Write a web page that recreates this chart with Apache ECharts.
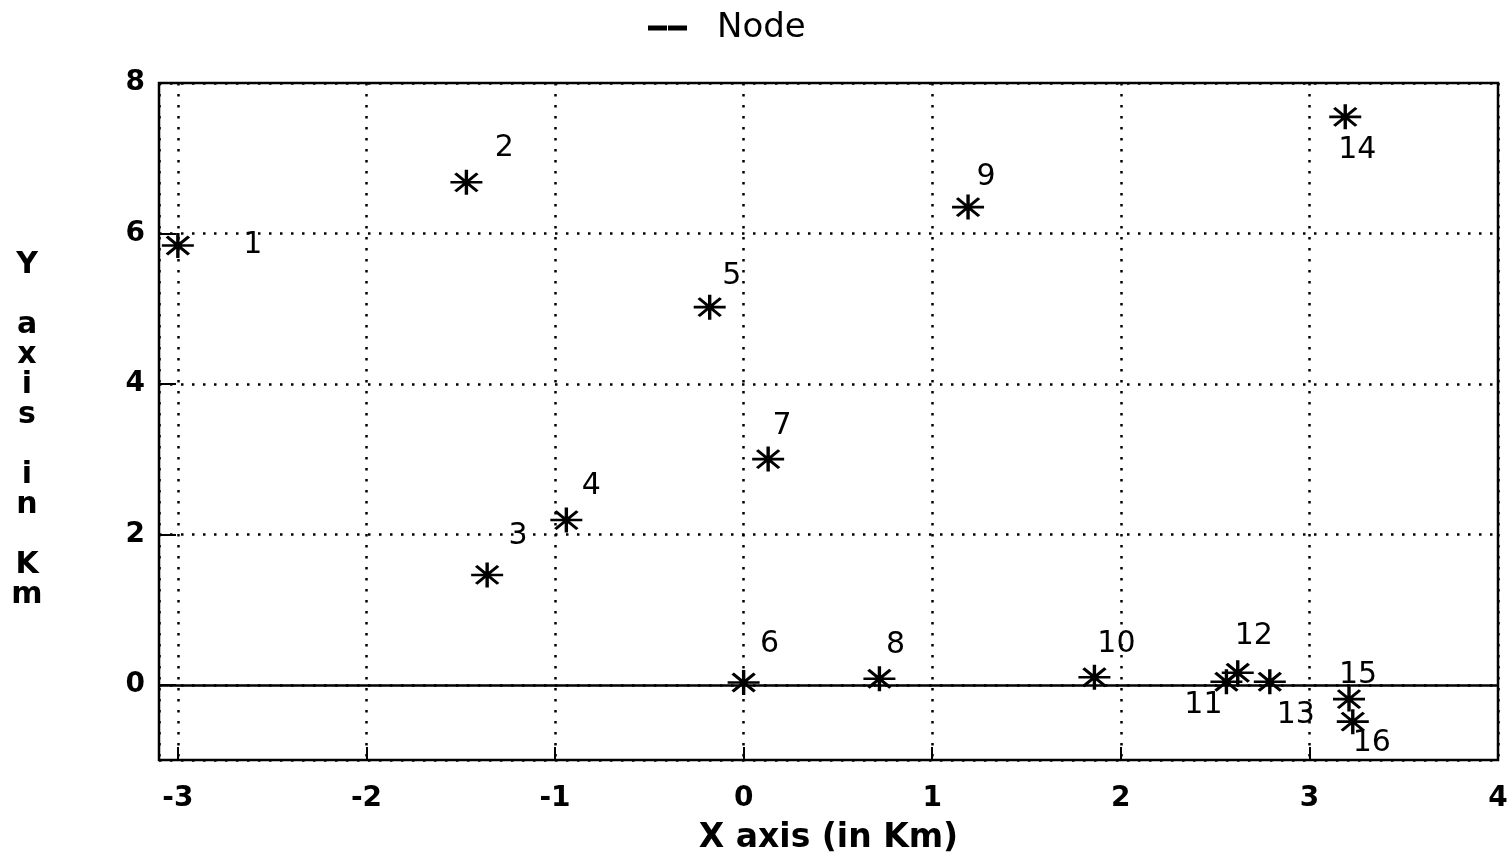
<!DOCTYPE html>
<html>
<head>
<meta charset="utf-8">
<script src="https://cdn.jsdelivr.net/npm/echarts@6/dist/echarts.min.js"></script>
<style>html,body{margin:0;padding:0;background:#fff;}#c{width:1511px;height:860px;}</style>
</head>
<body>
<div id="c"></div>
<script>
// ---- data ----
const nodeNames = ['1','2','3','4','5','6','7','8','9','10','11','12','13','14','15','16'];
const nodeX = [-3.00, -1.47, -1.36, -0.94, -0.18, 0.00, 0.13, 0.72, 1.19, 1.86, 2.56, 2.62, 2.79, 3.19, 3.21, 3.23];
const nodeY = [5.84, 6.68, 1.46, 2.19, 5.02, 0.03, 3.00, 0.08, 6.35, 0.10, 0.04, 0.16, 0.04, 7.55, -0.19, -0.49];
const seriesName = 'Node';
const xAxisTitle = 'X axis (in Km)';
const yAxisTitle = 'Y axis in Km';

// ---- layout of the node labels (pixel offsets from each marker) ----
const labelPlacement = [[75,0],[38,-34],[31,-39],[25,-34],[22,-31],[26,-38],[14,-33],[16,-34],
                        [18,-30],[22,-33],[-23,23],[16,-37],[26,33],[12,33],[9,-24],[19,22]];

const starPath = 'path://M-16,0H16M0,-12.5V12.5M-11,-9L11,9M-11,9L11,-9';
const tickFont = {fontFamily:'DejaVu Sans', fontWeight:'bold', fontSize:28, color:'#000'};

const points = nodeX.map((x, i) => ({
  value: [x, nodeY[i]],
  name: nodeNames[i],
  label: {offset: labelPlacement[i]}
}));

const isInt = v => Math.abs(v - Math.round(v)) < 1e-6;
const yNameStacked = '{s| }\n' + yAxisTitle.split('').join('\n').replace(/\n \n/g,'\n\n');

const chart = echarts.init(document.getElementById('c'), null, {renderer:'canvas'});
chart.setOption({
  animation: false,
  backgroundColor: '#fff',
  legend: {
    data: [seriesName],
    left: 643, top: 6,
    icon: 'path://M0,0H17V3H0ZM20,0H37V3H20Z',
    itemWidth: 37, itemHeight: 3,
    textStyle: {fontFamily:'DejaVu Sans', fontSize:34, color:'#000', padding:[0,0,0,26]},
    itemStyle: {color:'#000', opacity:1}
  },
  grid: {left:159, right:13, top:83, bottom:100, show:true, borderColor:'#000', borderWidth:2.5, backgroundColor:'transparent'},
  xAxis: {
    type:'value', min:-3.1, max:4, splitNumber:7,
    name: xAxisTitle, nameLocation:'middle', nameGap:62,
    nameTextStyle: {fontFamily:'DejaVu Sans', fontWeight:'bold', fontSize:33, color:'#000'},
    axisLine:{show:false, onZero:false},
    axisTick:{show:true, inside:true, length:13, lineStyle:{color:'#000', width:2}},
    axisLabel: Object.assign({margin:25, formatter: v => isInt(v) ? String(Math.round(v)) : ''}, tickFont),
    splitLine:{show:true, lineStyle:{color:'#000', width:2.5, type:[2.5,8.5]}}
  },
  yAxis: {
    type:'value', min:-1, max:8, splitNumber:5,
    name: yNameStacked,
    nameLocation:'middle', nameGap:132, nameRotate:0,
    nameTextStyle: {fontFamily:'DejaVu Sans', fontWeight:'bold', fontSize:30, lineHeight:30, color:'#000', align:'center', verticalAlign:'middle',
                    rich:{s:{fontSize:10, lineHeight:18}}},
    axisLine:{show:false, onZero:false},
    axisTick:{show:true, inside:true, length:17, lineStyle:{color:'#000', width:2}},
    axisLabel: Object.assign({margin:14, padding:[6,0,0,0], formatter: v => isInt(v) && Math.round(v)%2===0 ? String(Math.round(v)) : ''}, tickFont),
    splitLine:{show:true, lineStyle:{color:'#000', width:2.5, type:[2.5,8.5]}}
  },
  series: [{
    name: seriesName,
    type: 'scatter',
    symbol: starPath,
    symbolSize: [32,25],
    itemStyle: {color:'#000', borderColor:'#000', borderWidth:3, opacity:1},
    label: {show:true, position:'inside', formatter: p => p.name,
            fontFamily:'DejaVu Sans', fontSize:30, color:'#000', opacity:1},
    data: points,
    markLine: {
      silent:true, symbol:'none', animation:false,
      label:{show:false},
      lineStyle:{color:'#000', width:2.5, type:'solid', opacity:1},
      data:[{yAxis:0}]
    },
    z: 3
  }]
});
</script>
</body>
</html>
